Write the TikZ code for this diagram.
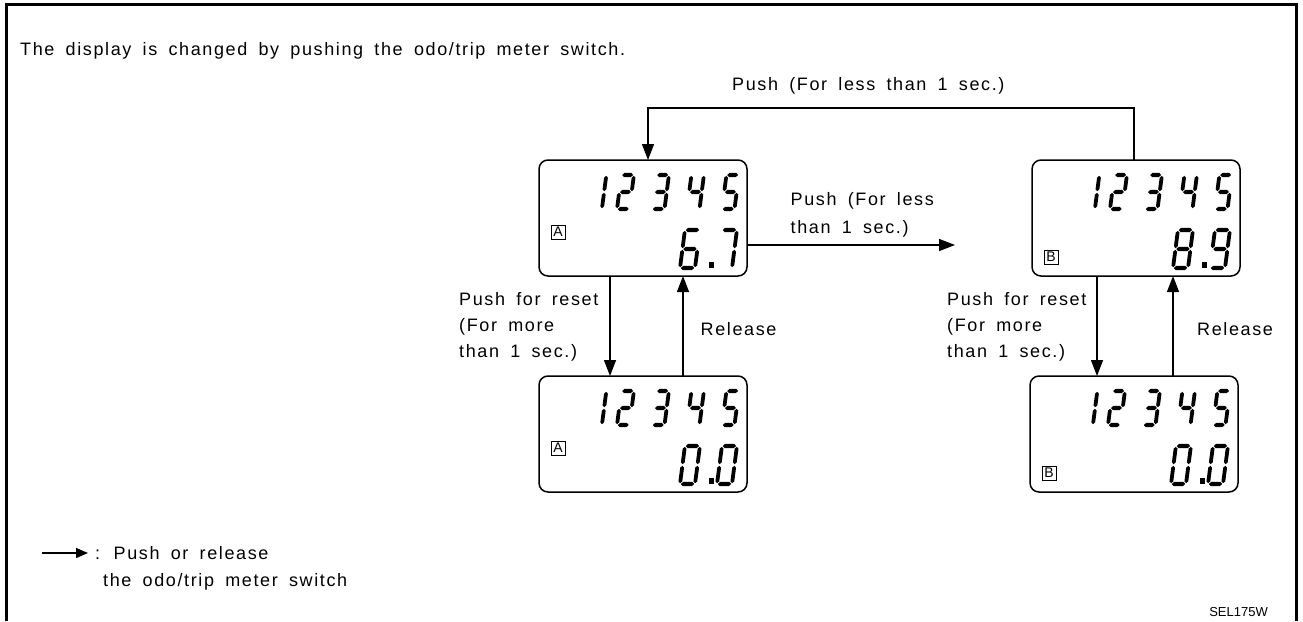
\documentclass[tikz,border=0pt]{standalone}
\usepackage{fontspec}
\setmainfont{Liberation Sans}
\newfontfamily\labelfont{Liberation Sans}[LetterSpace=9, WordSpace=1.7]
\usetikzlibrary{arrows.meta}
\tikzstyle{display} = [rectangle, rounded corners=9pt, draw=black, line width=1.5pt, outer sep=0pt, minimum width=208pt, minimum height=116pt]
\tikzstyle{badge} = [rectangle, draw=black, line width=1pt, minimum size=14pt, inner sep=0pt, font=\fontsize{14}{14}\selectfont]
\tikzstyle{note} = [align=left, inner sep=0pt, anchor=north west, font=\labelfont\fontsize{18}{25.8}\selectfont]
\tikzstyle{arrow} = [line width=1.4pt, -{Triangle[length=16pt,width=12pt]}]
\tikzstyle{frame} = [line width=3pt]
\newcommand{\segzero}{a,b,c,d,e,f}
\newcommand{\segone}{b,c}
\newcommand{\segtwo}{a,b,g,e,d}
\newcommand{\segthree}{a,b,g,c,d}
\newcommand{\segfour}{f,g,b,c}
\newcommand{\segfive}{a,f,g,c,d}
\newcommand{\segsix}{a,f,g,e,c,d}
\newcommand{\segseven}{a,b,c}
\newcommand{\segeight}{a,b,c,d,e,f,g}
\newcommand{\segnine}{a,b,c,d,f,g}
\newcommand{\lcdhseg}[1]{\fill (0.8,#1) -- (2.9,#1+2.1) -- (\lcdw-2.9,#1+2.1) -- (\lcdw-0.8,#1) -- (\lcdw-2.9,#1-2.1) -- (2.9,#1-2.1) -- cycle;}
\newcommand{\lcdvseg}[3]{\fill (#1,#2-0.8) -- (#1+1.9,#2-2.7) -- (#1+1.9,#3+2.7) -- (#1,#3+0.8) -- (#1-1.9,#3+2.7) -- (#1-1.9,#2-2.7) -- cycle;}
\newcommand{\lcdsega}{\lcdhseg{\lcdh}}
\newcommand{\lcdsegg}{\lcdhseg{\lcdmid}}
\newcommand{\lcdsegd}{\lcdhseg{0}}
\newcommand{\lcdsegb}{\lcdvseg{\lcdw}{\lcdh}{\lcdmid}}
\newcommand{\lcdsegc}{\lcdvseg{\lcdw}{\lcdmid}{0}}
\newcommand{\lcdsege}{\lcdvseg{0}{\lcdmid}{0}}
\newcommand{\lcdsegf}{\lcdvseg{0}{\lcdh}{\lcdmid}}
\newcommand{\lcddigit}[6]{%
\begin{scope}[shift={(#1.north east)}, shift={(#2,#3)}, x=1pt, y=1pt, xslant=0.13]
\def\lcdw{#4}\def\lcdh{#5}\pgfmathsetmacro\lcdmid{#5/2}
\foreach \s in #6 {\csname lcdseg\s\endcsname}
\end{scope}}
\newcommand{\lcdpanel}[3]{%
\lcddigit{#1}{-157.6}{49}{12.5}{34}{\segone}
\lcddigit{#1}{-130}{49}{12.5}{34}{\segtwo}
\lcddigit{#1}{-95}{49}{12.5}{34}{\segthree}
\lcddigit{#1}{-60}{49}{12.5}{34}{\segfour}
\lcddigit{#1}{-25}{49}{12.5}{34}{\segfive}
\lcddigit{#1}{-67}{108}{15}{38}{#2}
\lcddigit{#1}{-30}{108}{15}{38}{#3}
\fill ([shift={(-38,102)}]#1.north east) rectangle ++(5,6);}

\begin{document}
\begin{tikzpicture}[x=1pt, y=-1pt, node distance=216pt]
\useasboundingbox (0,0) rectangle (1303,621);
\draw [frame] (6.5,621) -- (6.5,4.5) -- (1296,4.5) -- (1296,621);

\node (title) [note] at (20,42.5) {The display is changed by pushing the odo/trip meter switch.};

\node (dispA) [display] at (643,218) {};
\node (dispB) [display, right of=dispA, xshift=277pt] {};
\node (dispAreset) [display, below of=dispA] {};
\node (dispBreset) [display, below of=dispB, xshift=-2pt] {};

\node (badgeA) [badge] at ([shift={(19,72)}]dispA.north west) {A};
\node (badgeB) [badge] at ([shift={(19,97)}]dispB.north west) {B};
\node (badgeAreset) [badge] at ([shift={(19,72)}]dispAreset.north west) {A};
\node (badgeBreset) [badge] at ([shift={(19,97)}]dispBreset.north west) {B};

\lcdpanel{dispA}{\segsix}{\segseven}
\lcdpanel{dispB}{\segeight}{\segnine}
\lcdpanel{dispAreset}{\segzero}{\segzero}
\lcdpanel{dispBreset}{\segzero}{\segzero}

\coordinate (pushend) at (955,245);
\coordinate (legendstart) at (42,553);
\coordinate (legendend) at (88,553);

\draw [arrow] ([xshift=-2pt]dispB.north) -- ++(0,-52) -| ([xshift=5pt]dispA.north);
\node (looplabel) [note] at (732,77.5) {Push (For less than 1 sec.)};

\draw [arrow] ([yshift=-27pt]dispA.east) -- (pushend);
\node (pushlabel) [note] at (790.5,192.5) {Push (For less\\[1.5pt]than 1 sec.)};

\draw [arrow] ([xshift=-33pt]dispA.south) -- ([xshift=-33pt]dispAreset.north);
\draw [arrow] ([xshift=40pt]dispAreset.north) -- ([xshift=40pt]dispA.south);
\node (resetA) [note] at (459,292.5) {Push for reset\\(For more\\than 1 sec.)};
\node (releaseA) [note] at (700.5,322.5) {Release};

\draw [arrow] ([xshift=-39pt]dispB.south) -- ([xshift=-37pt]dispBreset.north);
\draw [arrow] ([xshift=39pt]dispBreset.north) -- ([xshift=37pt]dispB.south);
\node (resetB) [note] at (947,292.5) {Push for reset\\(For more\\than 1 sec.)};
\node (releaseB) [note] at (1197,322.5) {Release};

\draw [arrow, -{Triangle[length=12pt,width=10pt]}] (legendstart) -- (legendend);
\node (legend) [note] at (95,546.5) {: Push or release\\[0.9pt]\hspace{8pt}the odo/trip meter switch};

\node (code) [anchor=north east, inner sep=0pt, font=\fontsize{13}{13}\selectfont] at (1268,607) {SEL175W};
\end{tikzpicture}
\end{document}
